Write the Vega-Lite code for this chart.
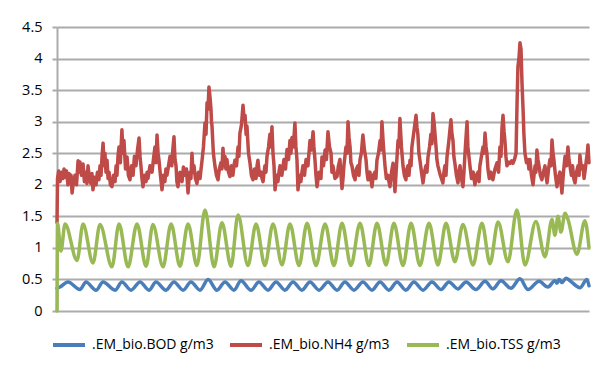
{
  "$schema": "https://vega.github.io/schema/vega-lite/v6.json",
  "autosize": {"type": "none"},
  "padding": {"left": 57, "top": 27, "right": 9, "bottom": 56},
  "width": 532,
  "height": 284,
  "background": "white",
  "config": {
    "view": {"stroke": null},
    "font": "Open Sans"
  },
  "datasets": {
    "bod": [
      {"t":0,"v":0.36},{"t":0.18,"v":0.38},{"t":0.64,"v":0.46},{"t":1.34,"v":0.34},{"t":1.69,"v":0.46},{"t":2.28,"v":0.33},{"t":2.69,"v":0.46},{"t":3.39,"v":0.33},{"t":3.79,"v":0.46},{"t":4.32,"v":0.33},{"t":4.85,"v":0.46},{"t":5.37,"v":0.33},{"t":5.78,"v":0.46},{"t":6.36,"v":0.33},{"t":6.83,"v":0.46},{"t":7.36,"v":0.33},{"t":7.82,"v":0.46},{"t":8.35,"v":0.33},{"t":8.82,"v":0.5},{"t":9.34,"v":0.33},{"t":9.81,"v":0.46},{"t":10.33,"v":0.33},{"t":10.74,"v":0.48},{"t":11.33,"v":0.33},{"t":11.79,"v":0.46},{"t":12.32,"v":0.33},{"t":12.79,"v":0.46},{"t":13.31,"v":0.33},{"t":13.78,"v":0.46},{"t":14.3,"v":0.33},{"t":14.77,"v":0.46},{"t":15.3,"v":0.33},{"t":15.82,"v":0.46},{"t":16.35,"v":0.33},{"t":16.81,"v":0.46},{"t":17.34,"v":0.33},{"t":17.86,"v":0.46},{"t":18.39,"v":0.33},{"t":18.86,"v":0.46},{"t":19.38,"v":0.33},{"t":19.85,"v":0.46},{"t":20.37,"v":0.33},{"t":20.84,"v":0.46},{"t":21.37,"v":0.33},{"t":21.89,"v":0.46},{"t":22.42,"v":0.34},{"t":22.88,"v":0.46},{"t":23.41,"v":0.35},{"t":23.88,"v":0.46},{"t":24.46,"v":0.34},{"t":24.99,"v":0.47},{"t":25.45,"v":0.35},{"t":25.92,"v":0.48},{"t":26.5,"v":0.36},{"t":27.03,"v":0.51},{"t":27.5,"v":0.34},{"t":28.14,"v":0.47},{"t":28.66,"v":0.38},{"t":29.07,"v":0.48},{"t":29.19,"v":0.44},{"t":29.31,"v":0.5},{"t":29.48,"v":0.45},{"t":29.72,"v":0.52},{"t":29.95,"v":0.48},{"t":30.53,"v":0.37},{"t":30.94,"v":0.5},{"t":31.06,"v":0.4}
    ],
    "nh4": [
      {"t":0,"v":1.4},{"t":0.03,"v":2.1},{"t":0.1,"v":2.22},{"t":0.18,"v":2.05},{"t":0.26,"v":2.2},{"t":0.35,"v":2.1},{"t":0.41,"v":2.25},{"t":0.47,"v":2.12},{"t":0.55,"v":2.22},{"t":0.64,"v":2.0},{"t":0.7,"v":2.18},{"t":0.76,"v":2.08},{"t":0.82,"v":2.15},{"t":0.88,"v":1.87},{"t":0.96,"v":2.05},{"t":1.05,"v":2.15},{"t":1.14,"v":2.0},{"t":1.23,"v":2.38},{"t":1.28,"v":2.2},{"t":1.34,"v":2.36},{"t":1.43,"v":2.15},{"t":1.52,"v":2.33},{"t":1.6,"v":2.05},{"t":1.69,"v":2.2},{"t":1.75,"v":2.02},{"t":1.81,"v":2.3},{"t":1.9,"v":2.1},{"t":1.98,"v":2.02},{"t":2.04,"v":2.18},{"t":2.1,"v":1.92},{"t":2.19,"v":2.12},{"t":2.28,"v":2.0},{"t":2.36,"v":2.2},{"t":2.45,"v":2.08},{"t":2.51,"v":2.3},{"t":2.57,"v":2.15},{"t":2.63,"v":2.45},{"t":2.69,"v":2.66},{"t":2.75,"v":2.3},{"t":2.8,"v":2.5},{"t":2.86,"v":2.2},{"t":2.92,"v":2.39},{"t":2.98,"v":2.1},{"t":3.04,"v":2.2},{"t":3.12,"v":2.0},{"t":3.21,"v":1.97},{"t":3.3,"v":2.15},{"t":3.39,"v":2.05},{"t":3.45,"v":2.3},{"t":3.5,"v":2.15},{"t":3.56,"v":2.45},{"t":3.62,"v":2.6},{"t":3.7,"v":2.35},{"t":3.79,"v":2.87},{"t":3.85,"v":2.5},{"t":3.91,"v":2.7},{"t":4.0,"v":2.25},{"t":4.09,"v":2.44},{"t":4.17,"v":2.15},{"t":4.26,"v":2.08},{"t":4.35,"v":2.3},{"t":4.44,"v":2.15},{"t":4.52,"v":2.45},{"t":4.61,"v":2.3},{"t":4.7,"v":2.55},{"t":4.79,"v":2.74},{"t":4.85,"v":2.45},{"t":4.9,"v":2.3},{"t":4.96,"v":2.1},{"t":5.02,"v":1.97},{"t":5.1,"v":2.15},{"t":5.2,"v":2.05},{"t":5.26,"v":2.2},{"t":5.31,"v":2.1},{"t":5.43,"v":2.3},{"t":5.55,"v":2.2},{"t":5.63,"v":2.4},{"t":5.72,"v":2.6},{"t":5.78,"v":2.35},{"t":5.84,"v":2.79},{"t":5.9,"v":2.5},{"t":5.95,"v":2.4},{"t":6.04,"v":2.15},{"t":6.13,"v":1.92},{"t":6.21,"v":2.15},{"t":6.3,"v":2.05},{"t":6.36,"v":2.25},{"t":6.42,"v":2.15},{"t":6.51,"v":2.3},{"t":6.6,"v":2.45},{"t":6.7,"v":2.3},{"t":6.76,"v":2.55},{"t":6.83,"v":2.76},{"t":6.89,"v":2.4},{"t":6.95,"v":2.3},{"t":7.0,"v":2.05},{"t":7.06,"v":1.97},{"t":7.18,"v":2.2},{"t":7.3,"v":2.05},{"t":7.38,"v":2.28},{"t":7.47,"v":2.15},{"t":7.56,"v":2.25},{"t":7.65,"v":1.87},{"t":7.7,"v":2.05},{"t":7.76,"v":2.2},{"t":7.82,"v":2.1},{"t":7.88,"v":2.5},{"t":7.94,"v":2.2},{"t":8.0,"v":2.3},{"t":8.08,"v":2.1},{"t":8.17,"v":2.02},{"t":8.26,"v":2.2},{"t":8.35,"v":2.1},{"t":8.41,"v":2.25},{"t":8.47,"v":2.39},{"t":8.55,"v":2.6},{"t":8.64,"v":2.98},{"t":8.7,"v":2.8},{"t":8.76,"v":3.3},{"t":8.82,"v":3.2},{"t":8.87,"v":3.55},{"t":8.93,"v":3.4},{"t":8.99,"v":3.2},{"t":9.02,"v":3.0},{"t":9.05,"v":2.93},{"t":9.13,"v":2.5},{"t":9.22,"v":2.3},{"t":9.31,"v":2.15},{"t":9.4,"v":2.08},{"t":9.48,"v":2.25},{"t":9.57,"v":2.35},{"t":9.63,"v":2.25},{"t":9.69,"v":2.58},{"t":9.75,"v":2.3},{"t":9.81,"v":2.45},{"t":9.86,"v":2.25},{"t":9.92,"v":2.4},{"t":10.01,"v":2.2},{"t":10.1,"v":2.13},{"t":10.18,"v":2.3},{"t":10.27,"v":2.15},{"t":10.33,"v":2.3},{"t":10.39,"v":2.39},{"t":10.48,"v":2.3},{"t":10.57,"v":2.6},{"t":10.62,"v":2.45},{"t":10.68,"v":2.82},{"t":10.77,"v":2.95},{"t":10.86,"v":3.26},{"t":10.92,"v":3.05},{"t":10.98,"v":3.1},{"t":11.04,"v":2.8},{"t":11.09,"v":2.93},{"t":11.18,"v":2.5},{"t":11.27,"v":2.34},{"t":11.35,"v":2.15},{"t":11.44,"v":2.08},{"t":11.53,"v":2.25},{"t":11.62,"v":2.1},{"t":11.68,"v":2.3},{"t":11.73,"v":2.39},{"t":11.82,"v":2.15},{"t":11.91,"v":2.2},{"t":11.97,"v":2.1},{"t":12.03,"v":2.05},{"t":12.09,"v":2.2},{"t":12.14,"v":2.3},{"t":12.2,"v":2.2},{"t":12.26,"v":2.45},{"t":12.35,"v":2.6},{"t":12.43,"v":2.8},{"t":12.49,"v":2.6},{"t":12.55,"v":2.92},{"t":12.61,"v":2.5},{"t":12.67,"v":2.3},{"t":12.73,"v":1.92},{"t":12.81,"v":2.15},{"t":12.9,"v":2.05},{"t":12.96,"v":2.2},{"t":13.02,"v":2.3},{"t":13.13,"v":2.15},{"t":13.25,"v":2.4},{"t":13.34,"v":2.25},{"t":13.43,"v":2.56},{"t":13.52,"v":2.4},{"t":13.6,"v":2.7},{"t":13.66,"v":2.5},{"t":13.72,"v":2.75},{"t":13.8,"v":2.6},{"t":13.89,"v":2.98},{"t":13.95,"v":2.6},{"t":14.01,"v":2.4},{"t":14.07,"v":1.92},{"t":14.15,"v":2.15},{"t":14.24,"v":2.05},{"t":14.3,"v":2.2},{"t":14.36,"v":2.3},{"t":14.45,"v":2.15},{"t":14.54,"v":2.4},{"t":14.65,"v":2.3},{"t":14.77,"v":2.7},{"t":14.86,"v":2.55},{"t":14.95,"v":2.84},{"t":15.0,"v":2.6},{"t":15.06,"v":2.4},{"t":15.12,"v":2.15},{"t":15.18,"v":1.97},{"t":15.3,"v":2.2},{"t":15.41,"v":2.1},{"t":15.47,"v":2.44},{"t":15.56,"v":2.3},{"t":15.65,"v":2.55},{"t":15.73,"v":2.4},{"t":15.82,"v":2.84},{"t":15.91,"v":2.6},{"t":16.0,"v":2.5},{"t":16.05,"v":2.2},{"t":16.11,"v":2.3},{"t":16.23,"v":2.1},{"t":16.35,"v":2.13},{"t":16.43,"v":2.3},{"t":16.52,"v":2.4},{"t":16.58,"v":2.15},{"t":16.64,"v":1.94},{"t":16.7,"v":2.1},{"t":16.75,"v":2.3},{"t":16.87,"v":2.6},{"t":16.93,"v":2.5},{"t":16.99,"v":3.0},{"t":17.05,"v":2.75},{"t":17.11,"v":2.6},{"t":17.16,"v":2.35},{"t":17.22,"v":2.3},{"t":17.31,"v":2.15},{"t":17.4,"v":2.08},{"t":17.48,"v":2.25},{"t":17.57,"v":2.3},{"t":17.63,"v":2.15},{"t":17.69,"v":2.4},{"t":17.77,"v":2.5},{"t":17.86,"v":2.79},{"t":17.95,"v":2.55},{"t":18.04,"v":2.4},{"t":18.1,"v":2.2},{"t":18.16,"v":2.08},{"t":18.27,"v":2.2},{"t":18.39,"v":1.97},{"t":18.47,"v":2.15},{"t":18.56,"v":2.2},{"t":18.62,"v":2.1},{"t":18.68,"v":2.39},{"t":18.77,"v":2.5},{"t":18.86,"v":2.7},{"t":18.92,"v":2.55},{"t":18.97,"v":3.0},{"t":19.06,"v":2.6},{"t":19.15,"v":2.3},{"t":19.23,"v":2.1},{"t":19.32,"v":2.15},{"t":19.38,"v":2.05},{"t":19.44,"v":1.97},{"t":19.53,"v":2.2},{"t":19.62,"v":2.34},{"t":19.68,"v":2.1},{"t":19.73,"v":1.89},{"t":19.82,"v":2.3},{"t":19.91,"v":2.7},{"t":19.96,"v":2.6},{"t":20.02,"v":3.05},{"t":20.11,"v":2.6},{"t":20.2,"v":2.3},{"t":20.28,"v":2.15},{"t":20.37,"v":2.08},{"t":20.43,"v":2.25},{"t":20.49,"v":2.3},{"t":20.55,"v":2.15},{"t":20.61,"v":2.39},{"t":20.67,"v":2.3},{"t":20.72,"v":2.6},{"t":20.84,"v":2.85},{"t":20.96,"v":3.1},{"t":21.02,"v":2.9},{"t":21.07,"v":2.8},{"t":21.13,"v":2.5},{"t":21.19,"v":2.39},{"t":21.28,"v":2.2},{"t":21.37,"v":2.03},{"t":21.45,"v":2.2},{"t":21.54,"v":2.3},{"t":21.6,"v":2.2},{"t":21.66,"v":2.44},{"t":21.75,"v":2.6},{"t":21.83,"v":2.8},{"t":21.89,"v":2.65},{"t":21.95,"v":3.13},{"t":22.01,"v":3.0},{"t":22.07,"v":2.8},{"t":22.13,"v":2.6},{"t":22.18,"v":2.4},{"t":22.24,"v":2.3},{"t":22.38,"v":2.15},{"t":22.53,"v":2.03},{"t":22.59,"v":2.2},{"t":22.65,"v":2.3},{"t":22.71,"v":2.15},{"t":22.77,"v":2.44},{"t":22.88,"v":2.7},{"t":23.0,"v":3.03},{"t":23.06,"v":2.8},{"t":23.12,"v":2.7},{"t":23.17,"v":2.45},{"t":23.23,"v":2.34},{"t":23.32,"v":2.15},{"t":23.41,"v":2.03},{"t":23.47,"v":2.2},{"t":23.53,"v":2.3},{"t":23.61,"v":2.1},{"t":23.7,"v":1.97},{"t":23.76,"v":2.2},{"t":23.82,"v":2.5},{"t":23.88,"v":2.75},{"t":23.94,"v":3.0},{"t":23.99,"v":2.6},{"t":24.05,"v":2.45},{"t":24.11,"v":2.3},{"t":24.2,"v":2.1},{"t":24.3,"v":2.2},{"t":24.4,"v":2.0},{"t":24.49,"v":2.15},{"t":24.58,"v":2.2},{"t":24.64,"v":2.05},{"t":24.69,"v":2.3},{"t":24.78,"v":2.45},{"t":24.87,"v":2.6},{"t":24.93,"v":2.5},{"t":24.99,"v":2.82},{"t":25.05,"v":2.6},{"t":25.1,"v":2.5},{"t":25.16,"v":2.25},{"t":25.24,"v":2.1},{"t":25.33,"v":2.2},{"t":25.45,"v":2.08},{"t":25.57,"v":2.25},{"t":25.69,"v":2.35},{"t":25.78,"v":2.2},{"t":25.86,"v":2.6},{"t":25.92,"v":2.45},{"t":25.98,"v":2.9},{"t":26.04,"v":3.1},{"t":26.1,"v":2.85},{"t":26.15,"v":2.7},{"t":26.21,"v":2.45},{"t":26.27,"v":2.3},{"t":26.36,"v":2.36},{"t":26.45,"v":2.34},{"t":26.54,"v":2.38},{"t":26.62,"v":2.34},{"t":26.71,"v":2.4},{"t":26.8,"v":2.5},{"t":26.86,"v":3.3},{"t":26.91,"v":3.87},{"t":26.97,"v":4.0},{"t":27.03,"v":4.25},{"t":27.09,"v":4.15},{"t":27.15,"v":3.6},{"t":27.21,"v":3.2},{"t":27.26,"v":2.8},{"t":27.32,"v":2.5},{"t":27.41,"v":2.35},{"t":27.5,"v":2.4},{"t":27.55,"v":2.25},{"t":27.61,"v":2.4},{"t":27.7,"v":2.15},{"t":27.79,"v":2.0},{"t":27.85,"v":2.15},{"t":27.91,"v":2.3},{"t":27.96,"v":2.2},{"t":28.02,"v":2.55},{"t":28.08,"v":2.4},{"t":28.14,"v":2.3},{"t":28.22,"v":2.15},{"t":28.31,"v":2.08},{"t":28.4,"v":2.2},{"t":28.49,"v":2.3},{"t":28.55,"v":2.15},{"t":28.61,"v":2.03},{"t":28.7,"v":2.25},{"t":28.78,"v":2.4},{"t":28.84,"v":2.3},{"t":28.9,"v":2.71},{"t":28.96,"v":2.5},{"t":29.01,"v":2.4},{"t":29.1,"v":2.15},{"t":29.19,"v":1.97},{"t":29.27,"v":2.1},{"t":29.36,"v":2.2},{"t":29.42,"v":2.05},{"t":29.48,"v":1.87},{"t":29.57,"v":2.2},{"t":29.66,"v":2.45},{"t":29.75,"v":2.3},{"t":29.83,"v":2.6},{"t":29.89,"v":2.4},{"t":29.95,"v":2.3},{"t":30.03,"v":2.15},{"t":30.1,"v":2.3},{"t":30.17,"v":2.1},{"t":30.24,"v":2.03},{"t":30.33,"v":2.2},{"t":30.42,"v":2.3},{"t":30.48,"v":2.15},{"t":30.53,"v":2.47},{"t":30.62,"v":2.25},{"t":30.71,"v":2.3},{"t":30.77,"v":2.1},{"t":30.82,"v":2.2},{"t":30.91,"v":2.4},{"t":30.96,"v":2.5},{"t":31.0,"v":2.63},{"t":31.06,"v":2.35}
    ],
    "tss": [
      {"t":0,"v":0.0},{"t":0.03,"v":1.39},{"t":0.23,"v":0.95},{"t":0.47,"v":1.38},{"t":1.17,"v":0.8},{"t":1.52,"v":1.38},{"t":2.1,"v":0.76},{"t":2.51,"v":1.37},{"t":3.21,"v":0.7},{"t":3.62,"v":1.38},{"t":4.15,"v":0.7},{"t":4.67,"v":1.38},{"t":5.2,"v":0.71},{"t":5.6,"v":1.37},{"t":6.19,"v":0.7},{"t":6.66,"v":1.38},{"t":7.18,"v":0.71},{"t":7.65,"v":1.38},{"t":8.17,"v":0.72},{"t":8.64,"v":1.6},{"t":9.17,"v":0.7},{"t":9.63,"v":1.4},{"t":10.16,"v":0.71},{"t":10.57,"v":1.52},{"t":11.15,"v":0.72},{"t":11.62,"v":1.38},{"t":12.14,"v":0.72},{"t":12.61,"v":1.38},{"t":13.14,"v":0.73},{"t":13.6,"v":1.38},{"t":14.13,"v":0.72},{"t":14.6,"v":1.39},{"t":15.12,"v":0.72},{"t":15.65,"v":1.38},{"t":16.17,"v":0.72},{"t":16.64,"v":1.39},{"t":17.16,"v":0.72},{"t":17.69,"v":1.39},{"t":18.21,"v":0.72},{"t":18.68,"v":1.39},{"t":19.21,"v":0.73},{"t":19.67,"v":1.39},{"t":20.2,"v":0.72},{"t":20.67,"v":1.39},{"t":21.19,"v":0.72},{"t":21.72,"v":1.39},{"t":22.24,"v":0.73},{"t":22.71,"v":1.39},{"t":23.23,"v":0.78},{"t":23.7,"v":1.37},{"t":24.29,"v":0.73},{"t":24.81,"v":1.39},{"t":25.28,"v":0.75},{"t":25.75,"v":1.41},{"t":26.33,"v":0.78},{"t":26.85,"v":1.6},{"t":27.32,"v":0.73},{"t":27.96,"v":1.42},{"t":28.49,"v":0.86},{"t":28.9,"v":1.45},{"t":29.07,"v":1.2},{"t":29.25,"v":1.5},{"t":29.42,"v":1.25},{"t":29.66,"v":1.55},{"t":29.83,"v":1.45},{"t":30.36,"v":0.9},{"t":30.82,"v":1.43},{"t":31.06,"v":1.0}
    ]
  },
  "encoding": {
    "x": {"field": "t", "type": "quantitative", "title": null, "scale": {"domain": [0, 31.06], "nice": false, "zero": false}, "axis": {"labels": false, "ticks": false, "grid": false, "domain": false, "title": null}},
    "y": {"field": "v", "type": "quantitative", "title": null, "scale": {"domain": [0, 4.5], "nice": false}, "axis": {"values": [0,0.5,1,1.5,2,2.5,3,3.5,4,4.5], "format": "~f", "title": null, "ticks": true, "tickSize": 5, "tickColor": "#ababab", "tickWidth": 2, "labelPadding": 10, "grid": true, "gridColor": "#ababab", "gridWidth": 2, "domain": true, "domainColor": "#ababab", "domainWidth": 2, "labelFont": "Open Sans", "labelFontSize": 14.5, "labelColor": "#000000"}}
  },
  "layer": [
    {
      "data": {"name": "bod"},
      "mark": {"type": "line", "interpolate": "monotone", "strokeWidth": 3.5, "strokeCap": "round", "strokeJoin": "round"},
      "encoding": {"color": {"datum": ".EM_bio.BOD g/m3", "type": "nominal", "scale": {"domain": [".EM_bio.BOD g/m3", ".EM_bio.NH4 g/m3", ".EM_bio.TSS g/m3"], "range": ["#4A7EBB", "#BE4B48", "#98B954"]}, "legend": {"title": null, "orient": "none", "legendX": -6, "legendY": 300, "direction": "horizontal", "columns": 3, "gridAlign": "all", "symbolType": "stroke", "symbolSize": 1024, "symbolStrokeWidth": 4, "labelFont": "Open Sans", "labelFontSize": 14, "labelColor": "#000000", "labelOffset": 5, "columnPadding": 8}}}
    },
    {
      "data": {"name": "nh4"},
      "mark": {"type": "line", "interpolate": "linear", "strokeWidth": 3.5, "strokeCap": "round", "strokeJoin": "round"},
      "encoding": {"color": {"datum": ".EM_bio.NH4 g/m3", "type": "nominal"}}
    },
    {
      "data": {"name": "tss"},
      "mark": {"type": "line", "interpolate": "monotone", "strokeWidth": 3.5, "strokeCap": "round", "strokeJoin": "round"},
      "encoding": {"color": {"datum": ".EM_bio.TSS g/m3", "type": "nominal"}}
    }
  ]
}
